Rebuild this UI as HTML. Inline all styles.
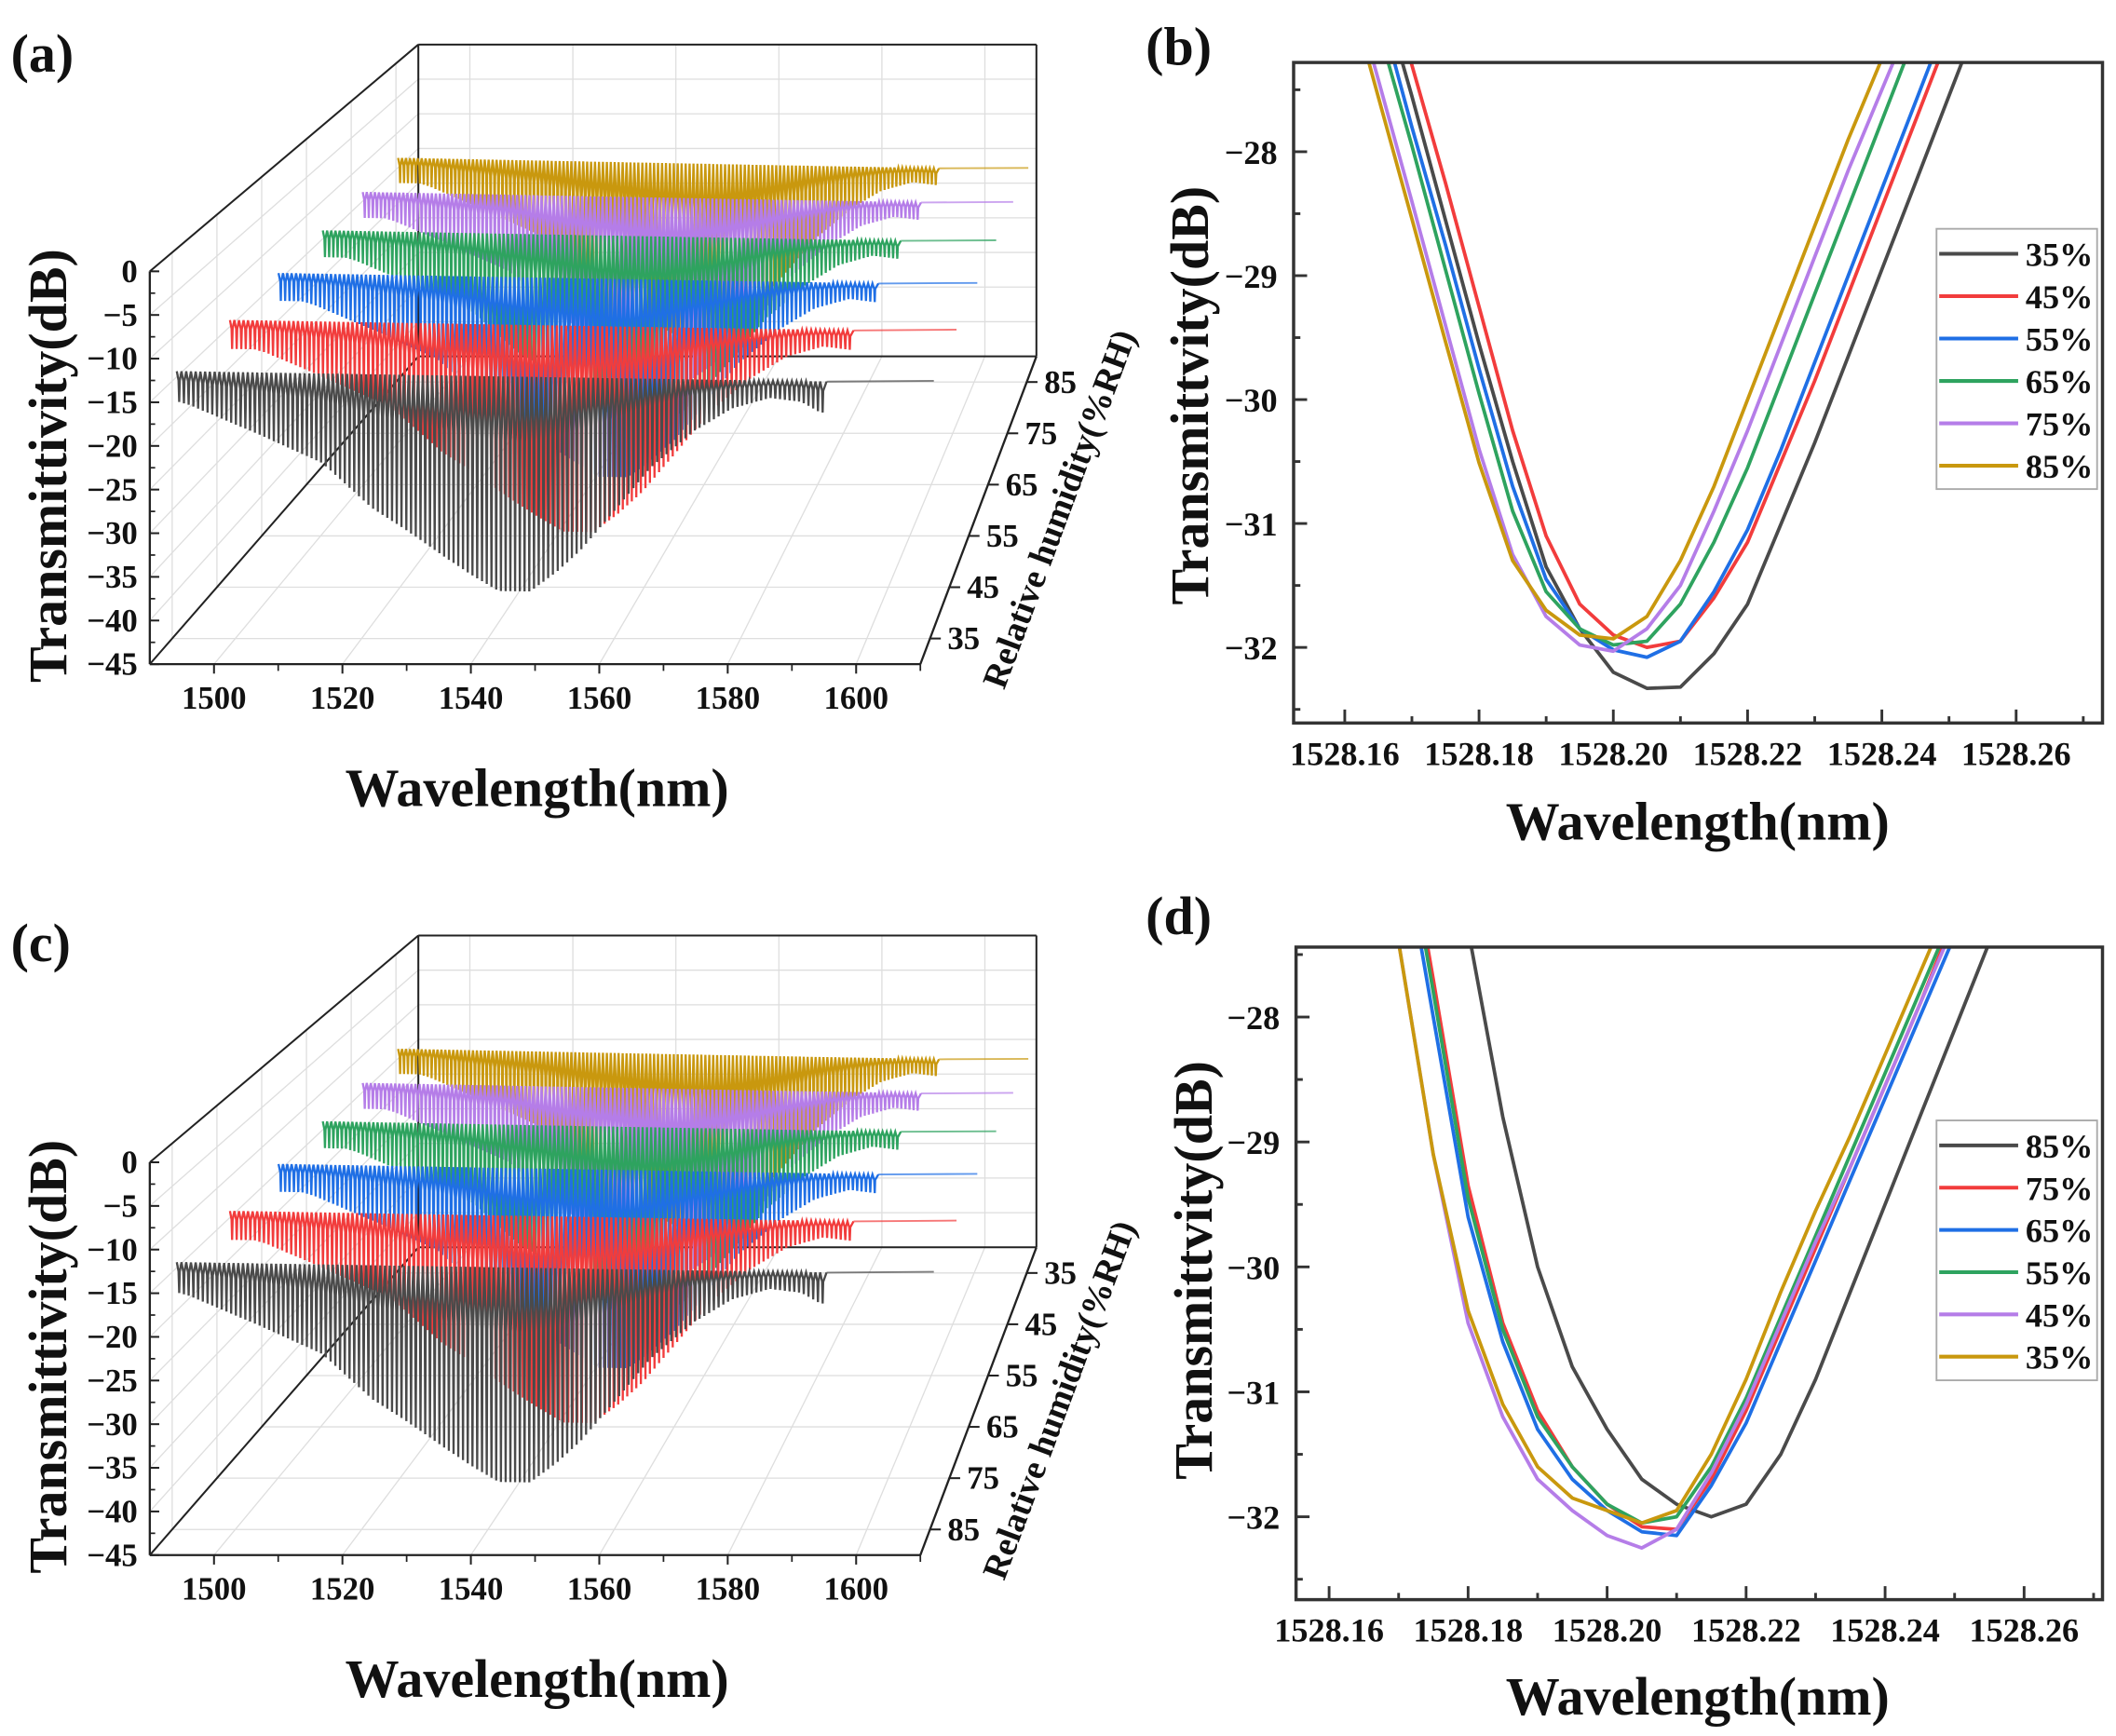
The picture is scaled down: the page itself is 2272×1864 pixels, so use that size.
<!DOCTYPE html>
<html><head><meta charset="utf-8"><title>Humidity response spectra</title>
<style>
html,body{margin:0;padding:0;background:#fff;}
svg{display:block;}
text{font-family:"Liberation Serif",serif;font-weight:bold;fill:#111;}
</style></head>
<body>
<svg id="fig" xmlns="http://www.w3.org/2000/svg" viewBox="0 0 1568 1286" width="2272" height="1864" preserveAspectRatio="none"></svg>
<script>
// ---------- data ----------
const wlGrid=[1528.160,1528.165,1528.170,1528.175,1528.180,1528.185,1528.190,1528.195,1528.200,1528.205,1528.210,1528.215,1528.220,1528.225,1528.230,1528.235,1528.240,1528.245,1528.250,1528.255,1528.260,1528.265];
// panel (b)
const bLabels=['35%','45%','55%','65%','75%','85%'];
const b35=[-25.6,-26.6,-27.55,-28.55,-29.55,-30.5,-31.35,-31.85,-32.2,-32.33,-32.32,-32.05,-31.65,-31.0,-30.35,-29.65,-28.95,-28.25,-27.55,-26.85,-26.15,-25.45];
const b45=[-25.3,-26.3,-27.3,-28.25,-29.25,-30.25,-31.1,-31.65,-31.9,-32.0,-31.95,-31.6,-31.15,-30.5,-29.85,-29.15,-28.45,-27.75,-27.05,-26.35,-25.65,-24.95];
const b55=[-25.8,-26.8,-27.8,-28.75,-29.75,-30.7,-31.45,-31.85,-32.02,-32.08,-31.95,-31.55,-31.05,-30.4,-29.7,-29.0,-28.3,-27.6,-26.9,-26.2,-25.5,-24.8];
const b65=[-26.0,-27.0,-27.95,-28.95,-29.95,-30.9,-31.55,-31.85,-31.98,-31.95,-31.65,-31.15,-30.55,-29.85,-29.15,-28.45,-27.75,-27.05,-26.4,-25.7,-25.0,-24.3];
const b75=[-26.45,-27.42,-28.4,-29.4,-30.4,-31.25,-31.75,-31.98,-32.03,-31.85,-31.5,-30.9,-30.25,-29.55,-28.85,-28.15,-27.5,-26.85,-26.2,-25.5,-24.8,-24.1];
const b85=[-26.57,-27.56,-28.54,-29.53,-30.51,-31.3,-31.7,-31.9,-31.93,-31.75,-31.3,-30.7,-30.0,-29.3,-28.6,-27.9,-27.25,-26.6,-26.0,-25.3,-24.6,-23.9];
// panel (d)
const dLabels=['85%','75%','65%','55%','45%','35%'];
const d85=[-21.0,-22.5,-24.0,-25.6,-27.3,-28.8,-30.0,-30.8,-31.3,-31.7,-31.9,-32.0,-31.9,-31.5,-30.9,-30.2,-29.5,-28.8,-28.1,-27.4,-26.7,-26.0];
const d75=[-22.7,-24.4,-26.1,-27.7,-29.35,-30.45,-31.15,-31.6,-31.9,-32.08,-32.1,-31.7,-31.15,-30.5,-29.85,-29.2,-28.55,-27.9,-27.2,-26.5,-25.85,-25.15];
const d65=[-23.0,-24.7,-26.4,-28.0,-29.6,-30.6,-31.3,-31.7,-31.95,-32.12,-32.15,-31.75,-31.25,-30.6,-29.95,-29.3,-28.65,-28.0,-27.35,-26.65,-26.0,-25.3];
const d55=[-22.8,-24.5,-26.2,-27.8,-29.45,-30.5,-31.2,-31.6,-31.9,-32.05,-32.0,-31.6,-31.05,-30.4,-29.75,-29.1,-28.45,-27.8,-27.15,-26.45,-25.8,-25.1];
const d45=[-24.0,-25.7,-27.4,-29.1,-30.45,-31.2,-31.7,-31.95,-32.15,-32.25,-32.1,-31.65,-31.1,-30.45,-29.8,-29.2,-28.55,-27.9,-27.25,-26.55,-25.9,-25.2];
const d35=[-24.0,-25.7,-27.4,-29.1,-30.35,-31.1,-31.6,-31.85,-31.95,-32.05,-31.95,-31.5,-30.9,-30.2,-29.55,-28.95,-28.3,-27.65,-27.0,-26.3,-25.6,-25.0];
const xTicks2D=[1528.16,1528.18,1528.20,1528.22,1528.24,1528.26];
const xTickLabels2D=['1528.16','1528.18','1528.20','1528.22','1528.24','1528.26'];
const yTicks2D=[-28,-29,-30,-31,-32];
const yTickLabels2D=['\u221228','\u221229','\u221230','\u221231','\u221232'];
// 3D panels
const rhValues=[35,45,55,65,75,85];
const rhTickLabels=['35','45','55','65','75','85'];
const wlTicks3D=[1500,1520,1540,1560,1580,1600];
const wlTickLabels3D=['1500','1520','1540','1560','1580','1600'];
const dbTicks3D=[0,-5,-10,-15,-20,-25,-30,-35,-40,-45];
const dbTickLabels3D=['0','\u22125','\u221210','\u221215','\u221220','\u221225','\u221230','\u221235','\u221240','\u221245'];
const envWl=[1494,1496,1507,1517,1525,1530,1537,1541,1545,1550,1554,1558,1564,1569,1576,1582,1588,1593,1596,1597];
const envDepth=[3.5,3.9,7.2,10.4,15.6,17.9,21.4,23.3,25,25,22.8,20.1,14.9,10.4,6,3.3,2,2.4,3.6,3.6];
const seriesEnvShift=[0,4,4,4,4,4];
const combPeriod=0.75;
const specStartWl=1494, specDipEndWl=1597, specEndWl=1614;

// ---------- helpers ----------
const NS='http://www.w3.org/2000/svg';
const svg=document.getElementById('fig');
function mk(tag,attrs,parent){const e=document.createElementNS(NS,tag);for(const k in attrs)e.setAttribute(k,attrs[k]);(parent||svg).appendChild(e);return e;}
function txt(s,attrs,parent){const e=mk('text',attrs,parent);e.textContent=s;return e;}
const COL={gray:'#4a4a4a',red:'#f23c3c',blue:'#1f6fe5',green:'#2ea35f',purple:'#b57de8',gold:'#c9980e'};
const AX='#333';

// ---------- 2D panels ----------
function panel2D(cfg){
  const g=mk('g',{});
  
  
  const X=wl=>cfg.xRef+(wl-1528.16)*cfg.ppn;
  const Y=v=>cfg.yRef-(v+32)*cfg.ppd;
  const cp=mk('clipPath',{id:cfg.name+'-clip'},g);
  mk('rect',{x:cfg.left,y:cfg.top,width:cfg.right-cfg.left,height:cfg.bottom-cfg.top},cp);
  const lg=mk('g',{'clip-path':'url(#'+cfg.name+'-clip)'},g);
  cfg.series.forEach((arr,i)=>{
    const pts=arr.map((v,j)=>X(wlGrid[j]).toFixed(1)+','+Y(v).toFixed(1)).join(' ');
    const pl=mk('polyline',{points:pts,fill:'none',stroke:cfg.colors[i],'stroke-width':2.6,'stroke-linejoin':'round'},lg);
    
    
  });
  const fr=mk('rect',{x:cfg.left,y:cfg.top,width:cfg.right-cfg.left,height:cfg.bottom-cfg.top,fill:'none',stroke:AX,'stroke-width':2.4},g);
  
  
  xTicks2D.forEach((t,i)=>{
    const x=X(t);
    mk('line',{x1:x,x2:x,y1:cfg.bottom,y2:cfg.bottom-10,stroke:AX,'stroke-width':2},g);
    const mx=X(t+0.01);
    if(mx<cfg.right-2) mk('line',{x1:mx,x2:mx,y1:cfg.bottom,y2:cfg.bottom-5,stroke:AX,'stroke-width':2},g);
    const tl=txt(xTickLabels2D[i],{x:x,y:cfg.bottom+31,'font-size':25,'text-anchor':'middle'},g);
    
    
  });
  yTicks2D.forEach((t,i)=>{
    const y=Y(t);
    mk('line',{x1:cfg.left,x2:cfg.left+10,y1:y,y2:y,stroke:AX,'stroke-width':2},g);
    const tl=txt(yTickLabels2D[i],{x:cfg.left-12,y:y+9,'font-size':25,'text-anchor':'end'},g);
    
    
  });
  [-27.5,-28.5,-29.5,-30.5,-31.5,-32.5].forEach(t=>{
    const y=Y(t); if(y>cfg.top+2&&y<cfg.bottom-2) mk('line',{x1:cfg.left,x2:cfg.left+5,y1:y,y2:y,stroke:AX,'stroke-width':2},g);
  });
  const yt=txt('Transmittvity(dB)',{x:0,y:0,'font-size':40,'text-anchor':'middle',transform:'translate('+cfg.yTitleX+','+cfg.yTitleY+') rotate(-90)'},g);
  
  
  const xt=txt('Wavelength(nm)',{x:1258,y:cfg.xTitleY,'font-size':40,'text-anchor':'middle'},g);
  
  
  const leg=mk('g',{},g);
  
  
  mk('rect',{x:1435,y:cfg.legTop,width:119,height:cfg.legH,fill:'#fff',stroke:'#aaa','stroke-width':1.3},leg);
  cfg.labels.forEach((lab,i)=>{
    const y=cfg.legTop+18.5+i*cfg.legStep;
    const e=mk('g',{},leg);
    
    
    mk('line',{x1:1437,x2:1495.5,y1:y,y2:y,stroke:cfg.colors[i],'stroke-width':2.8},e);
    txt(lab,{x:1501,y:y+9,'font-size':25},e);
  });
}

panel2D({name:'panel-b',left:958.6,right:1558,top:46.3,bottom:535.6,xRef:996.5,ppn:4975,yRef:479.6,ppd:91.8,
  series:[b35,b45,b55,b65,b75,b85],labels:bLabels,
  colors:[COL.gray,COL.red,COL.blue,COL.green,COL.purple,COL.gold],
  yTitleX:895,yTitleY:293,xTitleY:622,legTop:169.5,legH:192.8,legStep:31.4});
panel2D({name:'panel-d',left:960.4,right:1558,top:701.6,bottom:1185,xRef:984.9,ppn:5150,yRef:1123.6,ppd:92.55,
  series:[d85,d75,d65,d55,d45,d35],labels:dLabels,
  colors:[COL.gray,COL.red,COL.blue,COL.green,COL.purple,COL.gold],
  yTitleX:898,yTitleY:941,xTitleY:1270,legTop:830,legH:192.5,legStep:31.3});

// ---------- 3D panels ----------
function interpEnv(wl){
  if(wl<=envWl[0]) return envDepth[0];
  for(let i=1;i<envWl.length;i++){ if(wl<=envWl[i]){const f=(wl-envWl[i-1])/(envWl[i]-envWl[i-1]);return envDepth[i-1]+f*(envDepth[i]-envDepth[i-1]);} }
  return envDepth[envDepth.length-1];
}
function panel3D(cfg){
  const dy=cfg.dy;
  const g=mk('g',{});
  
  
  const FX=wl=>111+(wl-1490)*571/120, BX=wl=>310+(wl-1490)*458/120;
  const FY=db=>201+dy+(-db)*291/45, BY=db=>33+dy+(-db)*231/45;
  const tRH=rh=>cfg.reverse?(90-rh)/60:(rh-30)/60;
  const grid={stroke:'#dedede','stroke-width':0.9};
  const gg=mk('g',{},g);
  
  
  wlTicks3D.forEach(w=>mk('line',Object.assign({x1:BX(w),x2:BX(w),y1:33+dy,y2:264+dy},grid),gg));
  dbTicks3D.forEach(d=>{ if(d<0&&d>-45) mk('line',Object.assign({x1:310,x2:768,y1:BY(d),y2:BY(d)},grid),gg);});
  dbTicks3D.forEach(d=>{ if(d<0&&d>-45) mk('line',Object.assign({x1:111,x2:310,y1:FY(d),y2:BY(d)},grid),gg);});
  rhValues.forEach(rh=>{const t=tRH(rh);mk('line',Object.assign({x1:111+199*t,x2:111+199*t,y1:201-168*t+dy,y2:492-228*t+dy},grid),gg);});
  wlTicks3D.forEach(w=>mk('line',Object.assign({x1:FX(w),x2:BX(w),y1:492+dy,y2:264+dy},grid),gg));
  rhValues.forEach(rh=>{const t=tRH(rh);mk('line',Object.assign({x1:111+199*t,x2:682+86*t,y1:492-228*t+dy,y2:492-228*t+dy},grid),gg);});
  const edges=[[310,33,768,33],[310,33,310,264],[768,33,768,264],[310,264,768,264],[111,201,310,33],[111,492,310,264]];
  edges.forEach(e=>{mk('line',{x1:e[0],y1:e[1]+dy,x2:e[2],y2:e[3]+dy,stroke:'#222','stroke-width':1.4},g);});
  const order=rhValues.map((rh,i)=>i).sort((a,b)=>cfg.depthU(rhValues[b])-cfg.depthU(rhValues[a]));
  order.forEach(i=>{
    const rh=rhValues[i];
    const u=cfg.depthU(rh);
    const up=u*(1.25-0.25*u);
    const sx=131+164*up, sy=275-158*up+dy, w=561-94*up;
    const ppn=w/120, ppd=ppn*1.36;
    const P=(wl,db)=>(sx+(wl-specStartWl)*ppn).toFixed(1)+','+(sy+(wl-specStartWl)/120*9+(-db)*ppd).toFixed(1);
    const pts=[];
    const shift=seriesEnvShift[cfg.colorIdx[i]];
    for(let c=specStartWl+combPeriod/2;c<specDipEndWl;c+=combPeriod){
      const D=interpEnv(c-shift);
      pts.push(P(c-combPeriod/2,0),P(c-combPeriod*0.12,-D*0.3),P(c,-D),P(c+combPeriod*0.12,-D*0.3));
    }
    pts.push(P(specDipEndWl,0));
    const col=cfg.colors[i];
    const sg=mk('g',{},g);
    
    
    mk('polyline',{points:pts.join(' '),fill:'none',stroke:col,'stroke-width':1.6,'stroke-linejoin':'miter'},sg);
    mk('polyline',{points:[P(specDipEndWl,0),P(specEndWl,0.3)].join(' '),fill:'none',stroke:col,'stroke-width':1.3,opacity:0.7},sg);
  });
  const ax=mk('g',{},g);
  
  
  mk('line',{x1:111,x2:111,y1:201+dy,y2:492+dy,stroke:'#222','stroke-width':1.6},ax);
  dbTicks3D.forEach((d,i)=>{
    const y=FY(d);
    mk('line',{x1:111,x2:118,y1:y,y2:y,stroke:'#222','stroke-width':1.4},ax);
    if(d>-45) mk('line',{x1:111,x2:115,y1:FY(d-2.5),y2:FY(d-2.5),stroke:'#222','stroke-width':1.2},ax);
    const t=txt(dbTickLabels3D[i],{x:102,y:y+8,'font-size':24,'text-anchor':'end'},ax);
    
    
  });
  const xa=mk('g',{},g);
  
  
  mk('line',{x1:111,x2:682,y1:492+dy,y2:492+dy,stroke:'#222','stroke-width':1.6},xa);
  wlTicks3D.forEach((w,i)=>{
    mk('line',{x1:FX(w),x2:FX(w),y1:492+dy,y2:499+dy,stroke:'#222','stroke-width':1.4},xa);
    mk('line',{x1:FX(w+10),x2:FX(w+10),y1:492+dy,y2:497+dy,stroke:'#222','stroke-width':1.2},xa);
    const t=txt(wlTickLabels3D[i],{x:FX(w),y:525+dy,'font-size':24,'text-anchor':'middle'},xa);
    
    
  });
  const ra=mk('g',{},g);
  
  
  mk('line',{x1:682,y1:492+dy,x2:768,y2:264+dy,stroke:'#222','stroke-width':1.6},ra);
  rhValues.forEach((rh,i)=>{
    const t=tRH(rh), x=682+86*t, y=492-228*t+dy;
    mk('line',{x1:x,y1:y,x2:x+8,y2:y,stroke:'#222','stroke-width':1.4},ra);
    const tl=txt(rhTickLabels[i],{x:x+13,y:y+8,'font-size':24},ra);
    
    
  });
  const yt=txt('Transmittivity(dB)',{x:0,y:0,'font-size':40,'text-anchor':'middle',transform:'translate('+49+','+(345+dy)+') rotate(-90)'},g);
  
  
  const xt=txt('Wavelength(nm)',{x:398,y:597+dy,'font-size':40,'text-anchor':'middle'},g);
  
  
  const rt=txt('Relative humidity(%RH)',{x:0,y:0,'font-size':26,'text-anchor':'middle',transform:'translate(793,'+(380+dy)+') rotate(-69.6)'},g);
  
  
}
panel3D({name:'panel-a',dy:0,reverse:false,depthU:rh=>(rh-35)/50,
  colors:[COL.gray,COL.red,COL.blue,COL.green,COL.purple,COL.gold],colorIdx:[0,1,2,3,4,5]});
panel3D({name:'panel-c',dy:660,reverse:true,depthU:rh=>(85-rh)/50,
  colors:[COL.gold,COL.purple,COL.green,COL.blue,COL.red,COL.gray],colorIdx:[5,4,3,2,1,0]});

[['(a)',8,53],['(b)',849,48],['(c)',8,712],['(d)',849,692]].forEach(p=>{
  const t=txt(p[0],{x:p[1],y:p[2],'font-size':40});
  
  
});
</script>
</body></html>
